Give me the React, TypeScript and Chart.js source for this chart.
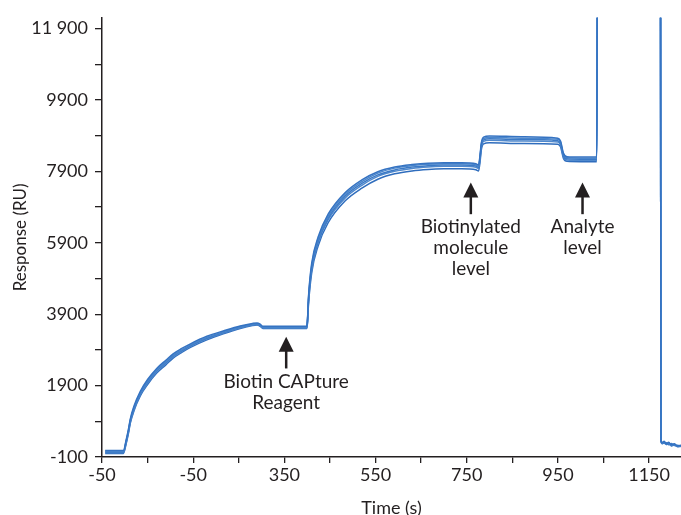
import React, { useEffect, useRef } from 'react';
import { Chart, registerables } from 'chart.js';

Chart.register(...registerables);

const FONT = 'Lato, "Open Sans", sans-serif';
const TEXT_COLOR = '#231f20';

// Time axis (s), shared by all sensorgram cycles
const timeS = [
  -43, -3, 3, 8, 12, 20, 34, 50, 70, 90,
  106, 125, 144, 180, 216, 253, 280, 290, 297, 303,
  399, 400.5, 403, 410, 424, 446, 483, 520, 555, 592,
  630, 665, 700, 739, 770, 776, 779, 782, 787, 800,
  870, 950, 956, 962, 970, 1000, 1035, 1037, 1175, 1176,
  1179, 1183, 1188, 1193, 1199, 1205, 1212, 1220,
];

// Response (RU) for each overlaid cycle
const cycle1 = [
  80, 80, 380, 680, 960, 1320, 1740, 2070, 2380, 2610,
  2790, 2940, 3070, 3280, 3430, 3570, 3640, 3655, 3620, 3560,
  3560, 3700, 4400, 5330, 6060, 6700, 7300, 7660, 7890, 8020,
  8090, 8130, 8140, 8140, 8110, 8080, 8330, 8690, 8860, 8890,
  8870, 8830, 8740, 8410, 8310, 8300, 8300, 14000, 14000, 370,
  300, 340, 260, 310, 240, 270, 210, 230,
];
const cycle2 = [
  60, 60, 350, 640, 930, 1280, 1700, 2030, 2340, 2570,
  2750, 2900, 3040, 3250, 3400, 3550, 3620, 3635, 3600, 3540,
  3540, 3680, 4350, 5270, 6000, 6640, 7250, 7610, 7850, 7990,
  8060, 8100, 8110, 8110, 8080, 8040, 8290, 8650, 8820, 8850,
  8830, 8800, 8710, 8380, 8280, 8270, 8270, 14000, 14000, 350,
  280, 330, 250, 290, 230, 250, 200, 220,
];
const cycle3 = [
  40, 40, 330, 620, 900, 1250, 1680, 2000, 2320, 2550,
  2730, 2880, 3020, 3230, 3390, 3540, 3610, 3625, 3590, 3530,
  3530, 3660, 4300, 5200, 5940, 6590, 7200, 7560, 7800, 7940,
  8020, 8060, 8075, 8080, 8050, 8010, 8250, 8610, 8780, 8810,
  8790, 8760, 8670, 8340, 8250, 8240, 8240, 14000, 14000, 330,
  310, 280, 300, 240, 280, 220, 230, 190,
];
const cycle4 = [
  20, 20, 300, 590, 870, 1220, 1650, 1970, 2290, 2520,
  2700, 2860, 3000, 3210, 3370, 3520, 3595, 3610, 3575, 3515,
  3515, 3640, 4250, 5140, 5890, 6540, 7150, 7510, 7760, 7900,
  7980, 8020, 8040, 8045, 8015, 7980, 8210, 8570, 8740, 8770,
  8750, 8720, 8630, 8310, 8220, 8210, 8210, 14000, 14000, 360,
  290, 320, 270, 300, 220, 260, 200, 210,
];
const cycle5 = [
  0, 0, 270, 560, 840, 1190, 1610, 1930, 2250, 2480,
  2670, 2830, 2970, 3180, 3350, 3500, 3580, 3595, 3560, 3500,
  3500, 3620, 4180, 5060, 5810, 6460, 7070, 7430, 7680, 7830,
  7910, 7950, 7970, 7975, 7945, 7910, 8140, 8500, 8670, 8700,
  8680, 8660, 8580, 8270, 8180, 8170, 8170, 14000, 14000, 340,
  270, 300, 250, 280, 210, 240, 190, 200,
];

const cycles = [cycle1, cycle2, cycle3, cycle4, cycle5];
const cycleColors = ['#3573c2', '#4a86cc', '#3b79c5', '#5089cd', '#2f6dbd'];

// Axis ticks and their labels (as printed on the original)
const xTickValues = [-50, 50, 150, 250, 350, 450, 550, 650, 750, 850, 950, 1050, 1150];
const xTickLabels = ['-50', '', '-50', '', '350', '', '550', '', '750', '', '950', '', '1150'];
const yTickValues = [-100, 900, 1900, 2900, 3900, 4900, 5900, 6900, 7900, 8900, 9900, 10900, 11900];
const yTickLabels = ['-100', '', '1900', '', '3900', '', '5900', '', '7900', '', '9900', '', '11 900'];

// Arrow annotations: x (s), arrow tip and tail (RU), text lines
const annotationX = [354, 759, 1004];
const annotationTip = [3270, 7590, 7590];
const annotationTail = [2380, 6700, 6700];
const annotationText = [
  ['Biotin CAPture', 'Reagent'],
  ['Biotinylated', 'molecule', 'level'],
  ['Analyte', 'level'],
];

const arrowPlugin = {
  id: 'arrowNotes',
  afterDatasetsDraw(chart: any) {
    const { ctx, scales } = chart;
    const xs = scales.x;
    const ys = scales.y;
    ctx.save();
    ctx.fillStyle = TEXT_COLOR;
    ctx.strokeStyle = TEXT_COLOR;
    annotationX.forEach((xv, i) => {
      const px = xs.getPixelForValue(xv);
      const tip = ys.getPixelForValue(annotationTip[i]);
      const tail = ys.getPixelForValue(annotationTail[i]);
      const headH = 15;
      const headW = 7.5;
      ctx.beginPath();
      ctx.moveTo(px, tip);
      ctx.lineTo(px - headW, tip + headH);
      ctx.lineTo(px + headW, tip + headH);
      ctx.closePath();
      ctx.fill();
      ctx.lineWidth = 2.5;
      ctx.beginPath();
      ctx.moveTo(px, tip + headH - 1);
      ctx.lineTo(px, tail);
      ctx.stroke();
      ctx.font = `19px ${FONT}`;
      ctx.textAlign = 'center';
      ctx.textBaseline = 'middle';
      annotationText[i].forEach((line, j) => {
        ctx.fillText(line, px, tail + 13 + j * 21);
      });
    });
    ctx.restore();
  },
};

export default function App() {
  const canvasRef = useRef<HTMLCanvasElement | null>(null);

  useEffect(() => {
    if (!canvasRef.current) return;
    const datasets = cycles.map((cyc, i) => ({
      label: `Cycle ${i + 1}`,
      data: timeS.map((t, k) => ({ x: t, y: cyc[k] })),
      borderColor: cycleColors[i],
      backgroundColor: cycleColors[i],
      borderWidth: 1.5,
      pointRadius: 0,
      cubicInterpolationMode: 'monotone' as const,
      fill: false,
    }));

    const chart = new Chart(canvasRef.current, {
      type: 'line',
      data: { datasets },
      plugins: [arrowPlugin],
      options: {
        animation: false,
        responsive: false,
        layout: { padding: { top: 15, left: 0, right: 0, bottom: 0 } },
        plugins: {
          legend: { display: false },
          tooltip: { enabled: false },
        },
        scales: {
          x: {
            type: 'linear',
            min: -50,
            max: 1220,
            afterBuildTicks: (scale: any) => {
              scale.ticks = xTickValues.map((v) => ({ value: v }));
            },
            afterFit: (scale: any) => {
              scale.height = 58;
            },
            ticks: {
              autoSkip: false,
              maxRotation: 0,
              padding: 1,
              color: TEXT_COLOR,
              font: { family: FONT, size: 18 },
              callback: (_v: any, idx: number) => xTickLabels[idx],
            },
            grid: {
              drawOnChartArea: false,
              drawTicks: true,
              tickLength: 6,
              color: TEXT_COLOR,
              lineWidth: 1.3,
            },
            border: { display: true, color: TEXT_COLOR, width: 1.5 },
            title: {
              display: true,
              text: 'Time (s)',
              color: TEXT_COLOR,
              font: { family: FONT, size: 18 },
              padding: { top: 0, bottom: -4 },
            },
          },
          y: {
            type: 'linear',
            min: -100,
            max: 12200,
            afterBuildTicks: (scale: any) => {
              scale.ticks = yTickValues.map((v) => ({ value: v }));
            },
            afterFit: (scale: any) => {
              scale.width = 102;
            },
            ticks: {
              autoSkip: false,
              padding: 7,
              color: TEXT_COLOR,
              font: { family: FONT, size: 18 },
              callback: (_v: any, idx: number) => yTickLabels[idx],
            },
            grid: {
              drawOnChartArea: false,
              drawTicks: true,
              tickLength: 7,
              color: TEXT_COLOR,
              lineWidth: 1.3,
            },
            border: { display: true, color: TEXT_COLOR, width: 1.5 },
            title: {
              display: true,
              text: 'Response (RU)',
              color: TEXT_COLOR,
              font: { family: FONT, size: 17 },
              padding: { top: 10, bottom: 0 },
            },
          },
        },
      } as any,
    });
    return () => chart.destroy();
  }, []);

  return (
    <div style={{ position: 'fixed', left: 0, top: 0, width: 681, height: 515, background: '#fff' }}>
      <canvas ref={canvasRef} width={681} height={515} />
    </div>
  );
}
